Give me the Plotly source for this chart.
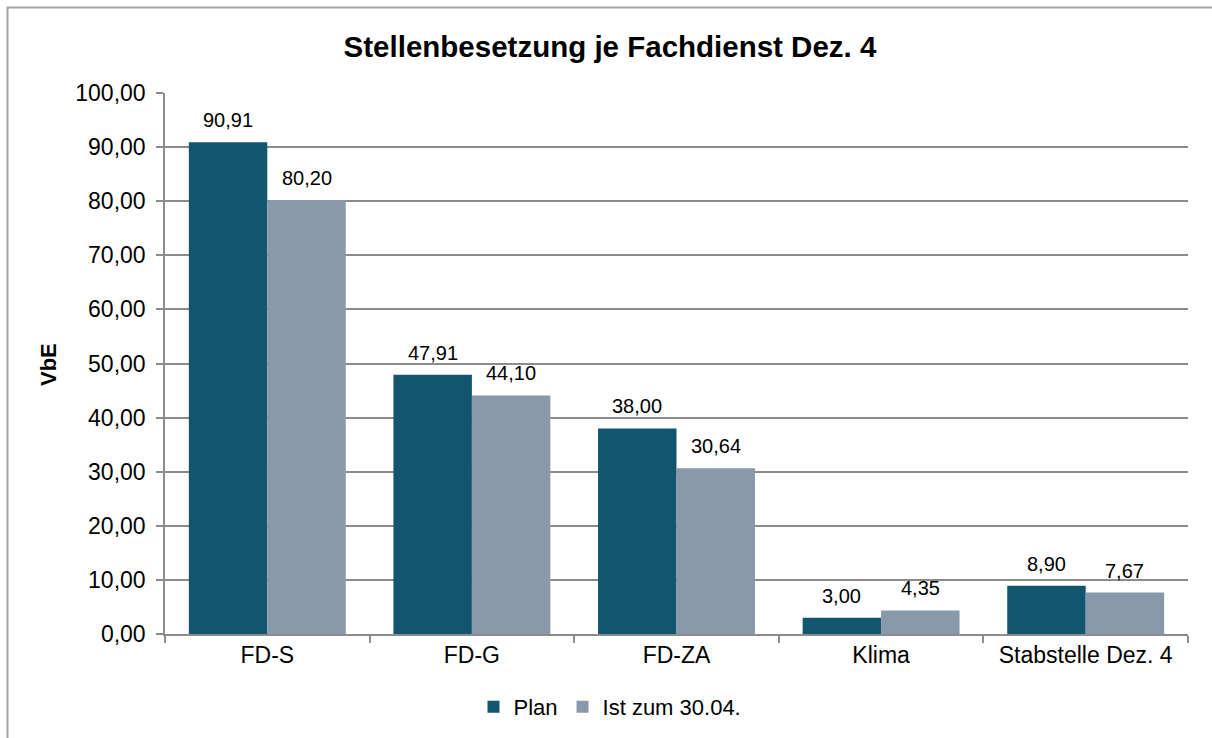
import plotly.graph_objects as go

categories = ["FD-S", "FD-G", "FD-ZA", "Klima", "Stabstelle Dez. 4"]
plan = [90.91, 47.91, 38.00, 3.00, 8.90]
ist = [80.20, 44.10, 30.64, 4.35, 7.67]
series_names = ["Plan", "Ist zum 30.04."]
y_ticks = [0, 10, 20, 30, 40, 50, 60, 70, 80, 90, 100]

FONT = "Liberation Sans, Arial, sans-serif"
W, H = 1212, 738
L, R, T, B = 165, 1188, 93, 634
BARGAP = 0.233

fig = go.Figure()
fig.add_trace(go.Bar(x=categories, y=plan, name=series_names[0],
                     marker=dict(color="#13546F", line=dict(width=0))))
fig.add_trace(go.Bar(x=categories, y=ist, name=series_names[1],
                     marker=dict(color="#8799AB", line=dict(width=0))))


def px_x(p):
    return (p - L) / (R - L)


def px_y(p):
    return (B - p) / (B - T)


half = (1 - BARGAP) / 4
annotations = []
for i, cat in enumerate(categories):
    for vals, off in ((plan, -half), (ist, half)):
        annotations.append(dict(
            x=i + off, y=vals[i], xref="x", yref="y",
            text=f"{vals[i]:.2f}".replace(".", ","),
            showarrow=False, yanchor="bottom", xanchor="center", yshift=9,
            font=dict(size=20, family=FONT, color="black")))

annotations.append(dict(
    x=px_x(49), y=px_y(365), xref="paper", yref="paper",
    text="<b>VbE</b>", textangle=-90, showarrow=False,
    xanchor="center", yanchor="middle",
    font=dict(size=22, family=FONT, color="black")))

# outer chart border: only left and top edges are visible in the picture
bx0, by_top, by_bot, bx_right = px_x(7.5), px_y(7.5), px_y(760), px_x(1240)
border_path = f"M {bx0} {by_bot} L {bx0} {by_top} L {bx_right} {by_top}"

fig.update_layout(
    width=W, height=H,
    margin=dict(l=L, r=W - R, t=T, b=H - B, autoexpand=False),
    paper_bgcolor="white", plot_bgcolor="white",
    separators=",.",
    barmode="group", bargap=BARGAP, bargroupgap=0,
    font=dict(family=FONT, size=22, color="black"),
    title=dict(text="<b>Stellenbesetzung je Fachdienst Dez. 4</b>",
               x=px_x(610), xref="paper", xanchor="center",
               y=1 - 47 / H, yanchor="middle",
               font=dict(size=29.5, family=FONT, color="black")),
    showlegend=True,
    legend=dict(orientation="h", x=px_x(610), xanchor="center",
                y=px_y(707), yanchor="middle", yref="paper",
                font=dict(size=22, family=FONT), itemwidth=30,
                traceorder="normal"),
    xaxis=dict(type="category", showgrid=False, showline=True,
               linecolor="#8C8C8C", linewidth=1.5,
               ticks="outside", tickson="boundaries", ticklen=7,
               tickcolor="#8C8C8C", tickwidth=1.5,
               tickfont=dict(size=23, family=FONT), fixedrange=True),
    yaxis=dict(range=[0, 100], tickvals=y_ticks, tickformat=".2f",
               showgrid=True, gridcolor="#8C8C8C", gridwidth=1.5,
               showline=True, linecolor="#8C8C8C", linewidth=1.5,
               ticks="outside", ticklen=7, tickcolor="#8C8C8C", tickwidth=1.5,
               ticklabelstandoff=6,
               tickfont=dict(size=23, family=FONT), zeroline=False,
               fixedrange=True),
    annotations=annotations,
    shapes=[dict(type="path", xref="paper", yref="paper", path=border_path,
                 line=dict(color="#A6A6A6", width=2),
                 layer="below")],
)

fig.write_html(
    "out.html",
    config={"displayModeBar": False},
    post_script="document.body.style.margin='0';document.body.style.overflow='hidden';",
)
